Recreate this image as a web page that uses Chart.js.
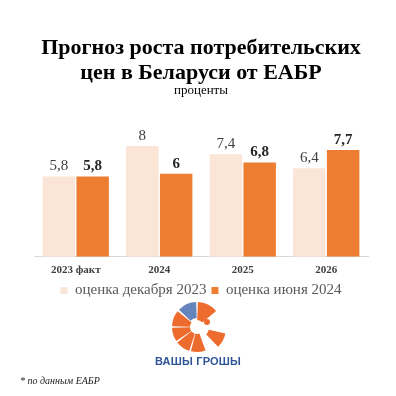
<!DOCTYPE html>
<html>
<head>
<meta charset="utf-8">
<script src="https://cdn.jsdelivr.net/npm/chart.js@4"></script>
<style>
  html, body { margin: 0; padding: 0; background: #fff; }
  body { width: 396px; height: 396px; position: relative; overflow: hidden; }
  #wrap { position: absolute; left: 0; top: 0; width: 396px; height: 308px; }
  #logo { position: absolute; left: 160px; top: 298px; }
  #brand { position: absolute; left: 0; width: 396px; top: 355px; text-align: center;
    font: bold 11px 'Liberation Sans', Arial, sans-serif; color: #2f5597; letter-spacing: 0.2px; }
  #note { position: absolute; left: 20px; top: 375px;
    font: italic 10px 'Liberation Serif', 'Times New Roman', serif; color: #222; }
</style>
</head>
<body>
<div id="wrap"><canvas id="inflChart"></canvas></div>
<svg id="logo" width="80" height="58" viewBox="160 298 80 58"></svg>
<div id="brand">ВАШЫ ГРОШЫ</div>
<div id="note">* по данным ЕАБР</div>
<script>
// data
const categories = ['2023 факт', '2024', '2025', '2026'];
const decEstimate = [5.8, 8, 7.4, 6.4];
const junEstimate = [5.8, 6, 6.8, 7.7];
const seriesNames = ['оценка декабря 2023', 'оценка июня 2024'];

const serif = "'Liberation Serif', 'Times New Roman', serif";

// value labels above bars
const barLabels = {
  id: 'barLabels',
  afterDatasetsDraw(chart) {
    const ctx = chart.ctx;
    chart.data.datasets.forEach((ds, i) => {
      const meta = chart.getDatasetMeta(i);
      meta.data.forEach((bar, j) => {
        ctx.save();
        ctx.font = (i === 1 ? 'bold ' : '') + '15px ' + serif;
        ctx.fillStyle = i === 1 ? '#262626' : '#404040';
        ctx.textAlign = 'center';
        ctx.textBaseline = 'middle';
        ctx.fillText(String(ds.data[j]).replace('.', ','), bar.x, bar.y - 10);
        ctx.restore();
      });
    });
  }
};

new Chart(document.getElementById('inflChart'), {
  type: 'bar',
  data: {
    labels: categories,
    datasets: [{
      label: seriesNames[0],
      data: decEstimate,
      backgroundColor: '#fbe5d6'
    }, {
      label: seriesNames[1],
      data: junEstimate,
      backgroundColor: '#ed7d31'
    }]
  },
  options: {
    responsive: true,
    maintainAspectRatio: false,
    animation: false,
    categoryPercentage: 0.81,
    barPercentage: 0.96,
    layout: { padding: { top: 36, left: 34, right: 28, bottom: 0 } },
    plugins: {
      title: {
        display: true,
        text: ['Прогноз роста потребительских', 'цен в Беларуси от ЕАБР'],
        font: { family: serif, size: 22, weight: 'bold', lineHeight: 1.14 },
        color: '#000',
        padding: { top: 0, bottom: 0 }
      },
      subtitle: {
        display: true,
        text: 'проценты',
        font: { family: serif, size: 13, lineHeight: 0.7 },
        color: '#000',
        padding: { top: 0, bottom: 23 }
      },
      legend: {
        position: 'bottom',
        labels: {
          boxWidth: 7,
          boxHeight: 7,
          padding: 5,
          color: '#595959',
          font: { family: serif, size: 15 }
        }
      },
      tooltip: { enabled: false }
    },
    scales: {
      x: {
        grid: { display: false, drawTicks: false },
        border: { color: '#d9d9d9' },
        ticks: { color: '#404040', font: { family: serif, size: 11, weight: 'bold' }, padding: 7 },
        afterFit(scale) { scale.height -= 6; }
      },
      y: { display: false, min: 0, max: 10 }
    }
  },
  plugins: [barLabels]
});

// logo: orange slices around a white centre, blue patch top-left, opening on the right
const svg = document.getElementById('logo');
const cx = 197, cy = 327, r = 25, r0 = 7;
function wedge(a1, a2, ri, ro, ox = 0, oy = 0) {
  const p = (a, rr) => [ox + cx + rr * Math.cos(a * Math.PI / 180), oy + cy + rr * Math.sin(a * Math.PI / 180)];
  const [x1, y1] = p(a1, ro), [x2, y2] = p(a2, ro), [x3, y3] = p(a2, ri), [x4, y4] = p(a1, ri);
  return `M${x1},${y1} A${ro},${ro} 0 0 1 ${x2},${y2} L${x3},${y3} A${ri},${ri} 0 0 0 ${x4},${y4} Z`;
}
const slices = [[-88, -40], [-178, -141], [146, 178], [108, 142], [70, 104]];
let html = '';
slices.forEach(w => { html += `<path d="${wedge(w[0], w[1], r0, r)}" fill="#ec6b2d"/>`; });
html += `<path d="${wedge(12, 46, 9, 26, 3, 1)}" fill="#ec6b2d"/>`;
html += `<path d="${wedge(-136, -92, 9, 25)}" fill="#4a6fb0" opacity="0.85"/>`;
html += `<circle cx="${cx + 10}" cy="${cy - 5}" r="3" fill="#ec6b2d"/>`;
svg.innerHTML = html;
</script>
</body>
</html>
